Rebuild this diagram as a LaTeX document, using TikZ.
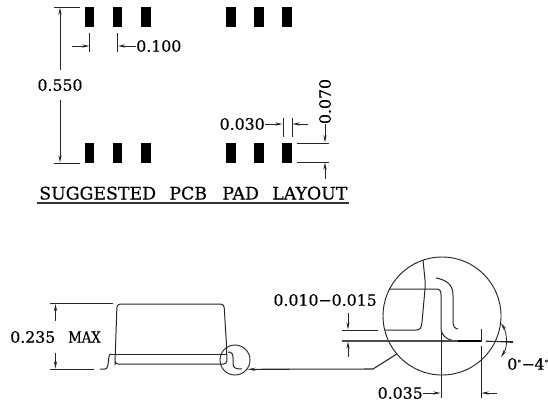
\documentclass[tikz,border=0pt]{standalone}
\usepackage{fontspec}
\setmainfont{DejaVu Serif}[FakeBold=0.5]
\usetikzlibrary{arrows.meta,calc}
\tikzset{
  x=0.75pt,y=-0.75pt,
  padbox/.style={fill=black,draw=none,inner sep=0pt,minimum width=7.1pt,minimum height=15pt},
  lbl/.style={inner sep=0pt,font=\fontsize{11.8pt}{13pt}\selectfont},
  thin line/.style={line width=0.6pt,black!85},
  dimline/.style={line width=0.6pt,black!85,-{Stealth[length=5.5pt,width=2.4pt]}},
  dimboth/.style={line width=0.6pt,black!85,{Stealth[length=5.5pt,width=2.4pt]}-{Stealth[length=5.5pt,width=2.4pt]}},
  outline/.style={line width=0.75pt,black!85},
  ring/.style={circle,draw=black!85,line width=0.7pt,inner sep=0pt},
}
\begin{document}
\begin{tikzpicture}
\useasboundingbox (0,0) rectangle (548,404);
% pads
\foreach \n/\x in {a/89.5,b/117.5,c/146,d/231,e/259,f/287}{
  \node[padbox] (top\n) at (\x,17) {};
  \node[padbox] (bot\n) at (\x,153) {};
}
% 0.550
\node[lbl] (t550) at (60,85) {0.550};
\coordinate (h550a) at (54,7); \coordinate (h550b) at (54,163);
\draw[thin line] (h550a) -- (80,7);
\draw[thin line] (h550b) -- (80,163);
\draw[dimline] (60,70) -- (60,7.5);
\draw[dimline] (60,100) -- (60,162.5);
% 0.100
\node[lbl,anchor=west] (t100) at (136,46) {0.100};
\coordinate (p1) at (89.5,33); \coordinate (p1b) at (89.5,52);
\coordinate (p2) at (117.5,33); \coordinate (p2b) at (117.5,52);
\coordinate (s100) at (72,46);
\draw[thin line] (p1) -- (p1b);
\draw[thin line] (p2) -- (p2b);
\draw[dimline] (s100) -- (89.5,46);
\draw[dimline] (t100.west) -- (118,46);
% 0.030
\node[lbl,anchor=east] (t030) at (265,124) {0.030};
\coordinate (q1) at (283,118); \coordinate (q1b) at (283,137);
\coordinate (q2) at (292,118); \coordinate (q2b) at (292,137);
\coordinate (s030) at (308,124);
\draw[thin line] (q1) -- (q1b);
\draw[thin line] (q2) -- (q2b);
\draw[dimline] (t030.east) -- (282.5,124);
\draw[dimline] (s030) -- (292.5,124);
% 0.070
\node[lbl,rotate=90] (t070) at (325,101.5) {0.070};
\coordinate (r1) at (297,143); \coordinate (r1b) at (329,143);
\coordinate (r2) at (297,162); \coordinate (r2b) at (329,162);
\coordinate (s070) at (325,179);
\draw[thin line] (r1) -- (r1b);
\draw[thin line] (r2) -- (r2b);
\draw[dimline] (t070.west) -- (325,142.5);
\draw[dimline] (s070) -- (325,162.5);
% title
\node[inner sep=0pt,anchor=base west,font=\fontsize{13pt}{15pt}\selectfont] (title) at (39,199.5) {SUGGESTED\hspace{10pt}PCB\hspace{11.5pt}PAD\hspace{10pt}LAYOUT};
\coordinate (ula) at (37,203); \coordinate (ulb) at (349,203);
\draw[line width=0.8pt,black!80] (ula) -- (ulb);
% 0.235 MAX
\node[lbl,anchor=west] (t235) at (10,337) {0.235};
\node[lbl,anchor=west] (tmax) at (68,337) {\scalebox{0.84}[1]{MAX}};
\coordinate (u1) at (50,303.7); \coordinate (u1b) at (113,303.7);
\coordinate (u2) at (50,369); \coordinate (u2b) at (94,369);
\draw[thin line] (u1) -- (u1b);
\draw[thin line] (u2) -- (u2b);
\draw[dimline] (55.5,321) -- (55.5,304);
\draw[dimline] (55.5,353) -- (55.5,368.5);
% package body
\draw[outline,rounded corners=2.5pt] (115,362) -- (115,364) -- (227,364) -- (226.5,345) -- (224,304) -- (117,304) -- cycle;
\draw[outline] (111,354) -- (227,354);
\draw[outline] (100,369) -- (105,369) .. controls (110,369) and (107,354) .. (111,354);
% small circle lead
\draw[outline] (228,352) .. controls (232,352) and (233,354) .. (233,358) -- (233,364) .. controls (233,368) and (236,369) .. (242,369);
\node[ring,minimum size=22.5pt] (small) at (235,360) {};
% big circle
\node[ring,minimum size=88.5pt] (big) at (442,316) {};
% big-circle detail
\draw[outline] (389,289) -- (436,289) .. controls (440,289) and (441,291) .. (441,295) -- (441,328) .. controls (441,336) and (448,341) .. (458,341);
\draw[outline] (436,278) .. controls (447,280) and (453,285) .. (453,295) -- (453,322) .. controls (453,326) and (455,329) .. (458,329);
\draw[outline] (423,260) -- (425,280) -- (425,289) -- (422,322) .. controls (421.5,328) and (420,330) .. (416,330) -- (385,330);
\coordinate (e1) at (342,330); \coordinate (e1b) at (378,330);
\draw[thin line] (e1) -- (e1b);
\coordinate (e2) at (342,341); \coordinate (e2b) at (458,341);
\draw[line width=0.8pt,black!70] (e2) -- (e2b);
\draw[line width=0.9pt,black] (458,341) -- (481,341);
% 0.010-0.015
\node[lbl,anchor=east] (t010) at (377,300) {0.010−0.015};
\draw[dimline] (348,313) -- (348,329.5);
\draw[dimline] (348,357) -- (348,341.5);
% leader
\coordinate (l1) at (373,369);
\draw[thin line,line width=0.8pt,-{Stealth[length=6pt,width=2.4pt]}] (big.220) -- (l1) -- (small.-37);
% 0.035
\node[lbl,anchor=east] (t035) at (423,393) {0.035};
\coordinate (v1) at (441,330); \coordinate (v1b) at (441,398);
\coordinate (v2) at (481,329); \coordinate (v2b) at (481,342);
\coordinate (v3) at (481,346); \coordinate (v3b) at (481,398);
\coordinate (s035) at (497,393);
\draw[thin line] (v1) -- (v1b);
\draw[thin line] (v2) -- (v2b);
\draw[thin line] (v3) -- (v3b);
\draw[dimline] (t035.east) -- (440.5,393);
\draw[dimline] (s035) -- (481.5,393);
% 0-4 angle
\coordinate (w0) at (486,341); \coordinate (w1) at (513,341); \coordinate (w2) at (513,342.5);
\draw[thin line] (w0) -- (w1);
\draw[thin line] (w0) -- (w2);
\draw[dimboth] (501,323) .. controls (506,331) and (509,345) .. (501,357);
\node[lbl,anchor=west] (t04) at (507,364) {0\raisebox{3pt}{\fontsize{6pt}{6pt}\selectfont°}\hspace{0.3pt}−\hspace{-0.3pt}4\raisebox{3pt}{\fontsize{6pt}{6pt}\selectfont°}};
\end{tikzpicture}
\end{document}
